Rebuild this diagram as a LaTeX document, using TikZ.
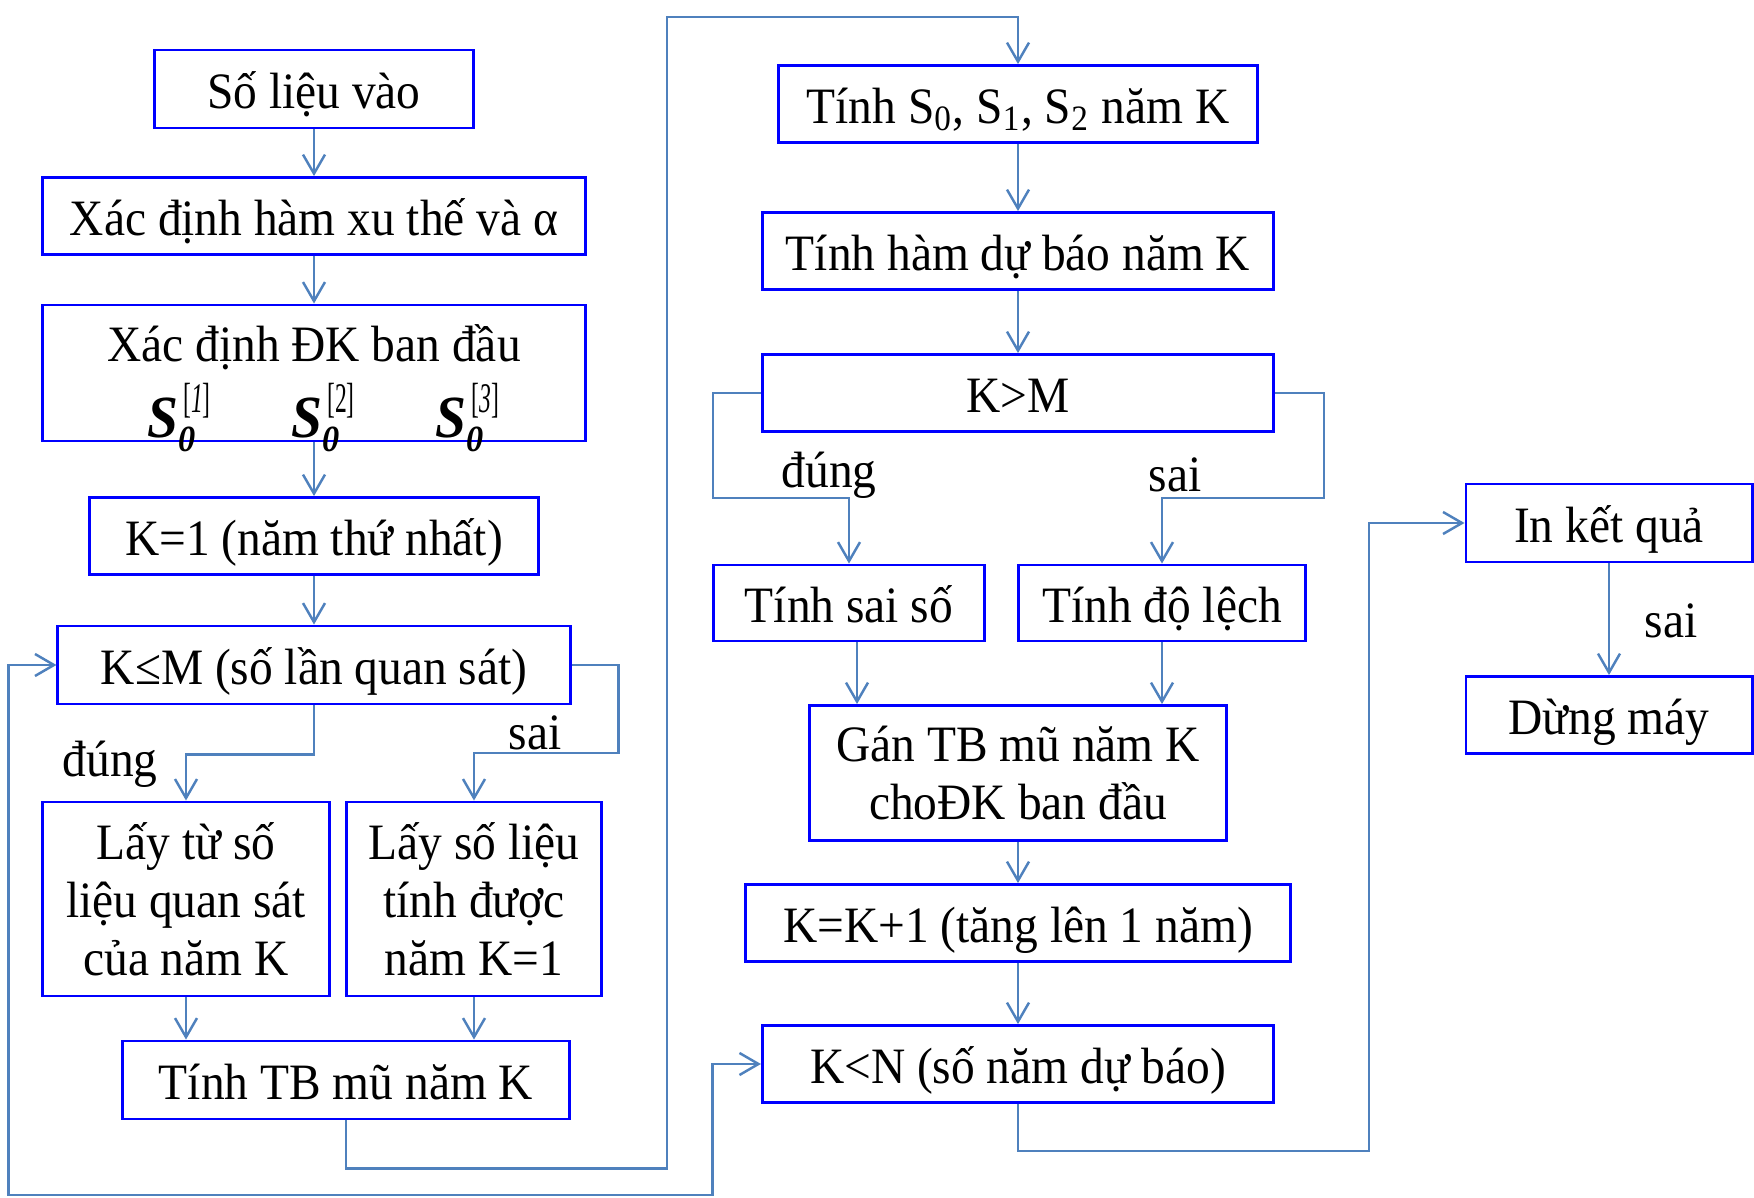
\documentclass[tikz,border=0pt]{standalone}
\usepackage{fontspec}
\setmainfont{Liberation Serif}[FakeStretch=0.93]
\usepackage{graphicx}
\usepackage{xcolor}
\usetikzlibrary{arrows.meta}
\definecolor{boxblue}{RGB}{0,0,255}
\definecolor{linkblue}{RGB}{79,129,189}
% S_0^{[i]} as drawn in the box "Xac dinh DK ban dau"
\newcommand{\Sgrp}[1]{\makebox[1.44cm]{\fontsize{17}{17}\selectfont\textbf{\textit{S}}%
  \rlap{\raisebox{-4pt}{\fontsize{10.5}{10.5}\selectfont\textbf{\textit{0}}}}\kern1.5pt%
  \raisebox{7pt}{\scalebox{0.6}[1]{\fontsize{12}{12}\selectfont[#1]}}}}

\begin{document}
\begin{tikzpicture}[x=0.01cm,y=-0.01cm,
    multibox/.style={draw=boxblue,line width=0.8pt,inner sep=0pt,align=center,
      font=\fontsize{14.5}{16.5}\selectfont},
    box/.style={multibox,text height=13pt,text depth=2pt},
    link/.style={draw=linkblue,line width=0.7pt},
    lbl/.style={font=\fontsize{14.5}{16.5}\selectfont},
    >={Straight Barb[length=1.9mm,width=2.2mm]}]
  \useasboundingbox (0,0) rectangle (1754,1198);

  % left column
  \node[box,minimum width=3.19cm,minimum height=0.78cm] (solieu) at (314,89) {Số liệu vào};
  \node[box,minimum width=5.42cm,minimum height=0.77cm] (xacdinh) at (314,216) {Xác định hàm xu thế và α};
  \node[multibox,minimum width=5.42cm,minimum height=1.36cm] (dkbd) at (314,373)
    {\rule{0pt}{15pt}Xác định ĐK ban đầu\\[5pt]
     \smash{\hspace{0.18cm}\Sgrp{\textit{1}}\Sgrp{2}\Sgrp{\textit{3}}}};
  \node[box,minimum width=4.49cm,minimum height=0.77cm] (k1) at (314,536) {K=1 (năm thứ nhất)};
  \node[box,minimum width=5.12cm,minimum height=0.78cm] (kleM) at (314,665) {K≤M (số lần quan sát)};
  \node[multibox,minimum width=2.87cm,minimum height=1.94cm] (laytu) at (186,899) {Lấy từ số\\liệu quan sát\\của năm K};
  \node[multibox,minimum width=2.55cm,minimum height=1.94cm] (laysl) at (474,899) {Lấy số liệu\\tính được\\năm K=1};
  \node[box,minimum width=4.47cm,minimum height=0.78cm] (tinhtb) at (346,1080) {Tính TB mũ năm K};

  % right column
  \node[box,minimum width=4.78cm,minimum height=0.77cm] (tinhS) at (1018,104)
    {Tính S\textsubscript{0}, S\textsubscript{1}, S\textsubscript{2} năm K};
  \node[box,minimum width=5.11cm,minimum height=0.77cm] (tinhham) at (1018,251) {Tính hàm dự báo năm K};
  \node[box,minimum width=5.11cm,minimum height=0.77cm] (kgtM) at (1018,393) {K>M};
  \node[box,minimum width=2.71cm,minimum height=0.76cm] (tinhsai) at (849,603) {Tính sai số};
  \node[box,minimum width=2.87cm,minimum height=0.76cm] (tinhdl) at (1162,603) {Tính độ lệch};
  \node[multibox,minimum width=4.16cm,minimum height=1.35cm] (gan) at (1018,773) {Gán TB mũ năm K\\choĐK ban đầu};
  \node[box,minimum width=5.44cm,minimum height=0.77cm] (kk1) at (1018,923) {K=K+1 (tăng lên 1 năm)};
  \node[box,minimum width=5.11cm,minimum height=0.77cm] (kltN) at (1018,1064) {K<N (số năm dự báo)};
  \node[box,minimum width=2.86cm,minimum height=0.78cm] (inkq) at (1609,523) {In kết quả};
  \node[box,minimum width=2.86cm,minimum height=0.77cm] (dung) at (1609,715) {Dừng máy};

  % connectors
  \draw[link,->] (solieu) -- (xacdinh);
  \draw[link,->] (xacdinh) -- (dkbd);
  \draw[link,->] (dkbd) -- (k1);
  \draw[link,->] (k1) -- (kleM);
  \draw[link,->] (kleM.south) -- ++(0,49) -| (laytu.north);
  \draw[link,->] (kleM.east) -- ++(47,0) -- ++(0,88) -| (laysl.north);
  \draw[link,->] (laytu.south) -- (laytu.south |- tinhtb.north);
  \draw[link,->] (laysl.south) -- (laysl.south |- tinhtb.north);
  \draw[link,->] (tinhtb.south) -- ++(0,48) -| (667,17) -| (tinhS.north);
  \draw[link,->] (tinhS) -- (tinhham);
  \draw[link,->] (tinhham) -- (kgtM);
  \draw[link,->] (kgtM.west) -- ++(-48,0) -- ++(0,105) -| (tinhsai.north);
  \draw[link,->] (kgtM.east) -- ++(49,0) -- ++(0,105) -| (tinhdl.north);
  \draw[link,->] ([xshift=0.08cm]tinhsai.south) -- ([xshift=0.08cm]tinhsai.south |- gan.north);
  \draw[link,->] (tinhdl.south) -- (tinhdl.south |- gan.north);
  \draw[link,->] (gan) -- (kk1);
  \draw[link,->] (kk1) -- (kltN);
  \draw[link,->] (kltN.south) -- ++(0,47) -- ++(351,0) |- (inkq.west);
  \draw[link,->] (inkq) -- (dung);
  \draw[link,<->] (kleM.west) -- ++(-48,0) -- ++(0,530) -- ++(704,0) |- (kltN.west);

  % labels
  \node[lbl] (dungL) at (110,764) {đúng};
  \node[lbl] (saiL) at (535,733) {sai};
  \node[lbl] (dungR) at (829,475) {đúng};
  \node[lbl] (saiR) at (1175,475) {sai};
  \node[lbl] (saiKQ) at (1671,621) {sai};
\end{tikzpicture}
\end{document}
